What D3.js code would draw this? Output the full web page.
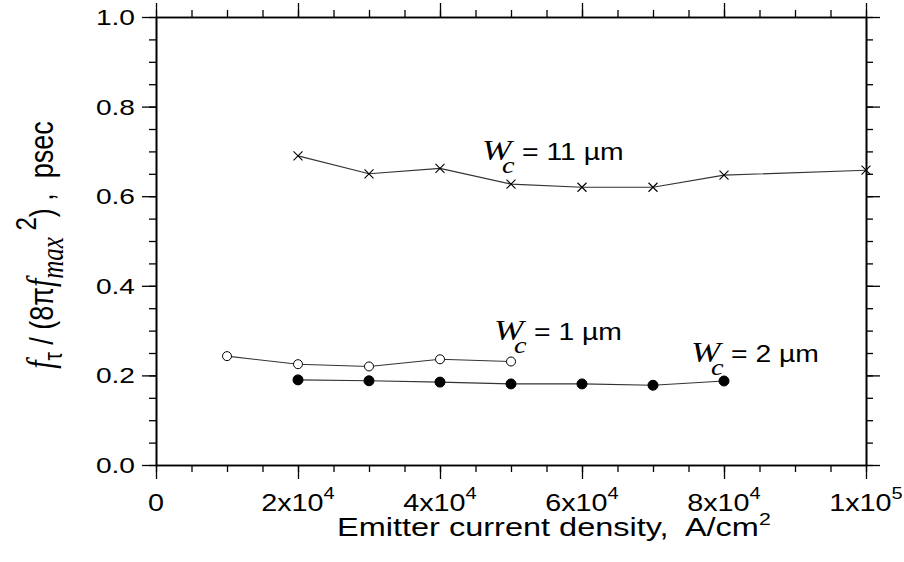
<!DOCTYPE html>
<html>
<head>
<meta charset="utf-8">
<script src="https://cdn.jsdelivr.net/npm/d3@7"></script>
<style>
  html, body { margin: 0; padding: 0; background: #fff; }
  svg { display: block; }
  text { white-space: pre; }
  .sans { font-family: Arial, "Liberation Sans", sans-serif; }
  .serif { font-family: "Times New Roman", "Liberation Serif", serif; font-style: italic; }
</style>
</head>
<body>
<svg id="chart" width="904" height="562"></svg>
<script>
// Emitter current density (A/cm^2) and f_tau/(8*pi*f_max^2) in psec for each collector width
const current11 = [20000, 30000, 40000, 50000, 60000, 70000, 80000, 100000];
const delay11   = [0.690, 0.650, 0.662, 0.627, 0.620, 0.620, 0.647, 0.658];

const current1  = [10000, 20000, 30000, 40000, 50000];
const delay1    = [0.243, 0.225, 0.220, 0.236, 0.231];

const current2  = [20000, 30000, 40000, 50000, 60000, 70000, 80000];
const delay2    = [0.190, 0.188, 0.185, 0.181, 0.181, 0.178, 0.1875];

// Axis tick labels
const xTickValues   = [0, 20000, 40000, 60000, 80000, 100000];
const xTickMantissa = ["0", "2x10", "4x10", "6x10", "8x10", "1x10"];
const xTickExponent = ["", "4", "4", "4", "4", "5"];
const yTickValues   = [0, 0.2, 0.4, 0.6, 0.8, 1.0];
const yTickLabels   = ["0.0", "0.2", "0.4", "0.6", "0.8", "1.0"];

const svg = d3.select("#chart");
const plotLeft = 156, plotRight = 866, plotTop = 17, plotBottom = 465;

const x = d3.scaleLinear().domain([0, 100000]).range([plotLeft, plotRight]);
const y = d3.scaleLinear().domain([0, 1]).range([plotBottom, plotTop]);

const xMinor = d3.range(0, 100001, 5000);
const yMinor = d3.range(0, 1.0001, 0.05);

function styleAxis(g) {
  g.select(".domain").attr("stroke", "#000").attr("stroke-width", 1.6);
  g.selectAll(".tick line").attr("stroke", "#000").attr("stroke-width", 1.3);
  g.selectAll(".tick text").remove();
}

// Minor ticks then major ticks on all four sides, pointing outward
const axes = [
  [d3.axisBottom(x), `translate(0,${plotBottom})`, xMinor, xTickValues],
  [d3.axisTop(x),    `translate(0,${plotTop})`,    xMinor, xTickValues],
  [d3.axisLeft(y),   `translate(${plotLeft},0)`,   yMinor, yTickValues],
  [d3.axisRight(y),  `translate(${plotRight},0)`,  yMinor, yTickValues]
];
axes.forEach(([axis, tr, minor, major]) => {
  svg.append("g").attr("transform", tr)
    .call(axis.tickValues(minor).tickSize(7).tickSizeOuter(0)).call(styleAxis);
  svg.append("g").attr("transform", tr)
    .call(axis.tickValues(major).tickSize(14).tickSizeOuter(0)).call(styleAxis);
});

// Horizontally widened text helper
function label(g, px, py, anchor, size, cls, sx) {
  return g.append("text")
    .attr("class", cls || "sans")
    .attr("transform", `translate(${px},${py}) scale(${sx || 1.25},1)`)
    .attr("text-anchor", anchor)
    .attr("font-size", size)
    .attr("fill", "#000");
}

// Y tick labels
yTickValues.forEach((v, i) => {
  label(svg, plotLeft - 21, y(v) + 8, "end", 22.5).text(yTickLabels[i]);
});

// X tick labels with exponents
xTickValues.forEach((v, i) => {
  const t = label(svg, x(v), 511, "middle", 23);
  t.append("tspan").text(xTickMantissa[i]);
  if (xTickExponent[i]) {
    t.append("tspan").attr("dy", -12).attr("font-size", 16).text(xTickExponent[i]);
  }
});

// X axis title
{
  const t = label(svg, 337, 536, "start", 26);
  t.append("tspan").text("Emitter current density,  A/cm");
  t.append("tspan").attr("dy", -11).attr("font-size", 17).text("2");
}

// Y axis title (rotated)
{
  const t = svg.append("text")
    .attr("transform", `translate(53,245) rotate(-90) scale(1,1.25)`)
    .attr("text-anchor", "middle")
    .attr("font-size", 27)
    .attr("class", "sans")
    .attr("fill", "#000");
  t.append("tspan").attr("class", "serif").attr("font-size", 30).text("f");
  t.append("tspan").attr("dy", 7).attr("font-size", 21).text("τ");
  t.append("tspan").attr("dy", -7).text(" / (8π");
  t.append("tspan").attr("class", "serif").attr("font-size", 30).text("f");
  t.append("tspan").attr("class", "serif").attr("dy", 8).attr("font-size", 25).text("max");
  t.append("tspan").attr("dy", -22).attr("font-size", 24).text(" 2");
  t.append("tspan").attr("dy", 14).text(") ,  psec");
}

// Series lines and markers
const line = d3.line().x(d => x(d[0])).y(d => y(d[1]));
const series = [
  { cur: current11, val: delay11, marker: "cross" },
  { cur: current1,  val: delay1,  marker: "open" },
  { cur: current2,  val: delay2,  marker: "filled" }
];
series.forEach(s => {
  const pts = d3.zip(s.cur, s.val);
  svg.append("path").datum(pts)
    .attr("d", line)
    .attr("fill", "none")
    .attr("stroke", "#333")
    .attr("stroke-width", 1.1);
  const g = svg.append("g");
  if (s.marker === "cross") {
    const h = 4.5;
    g.selectAll("path").data(pts).join("path")
      .attr("d", d => `M${x(d[0]) - h},${y(d[1]) - h}L${x(d[0]) + h},${y(d[1]) + h}M${x(d[0]) - h},${y(d[1]) + h}L${x(d[0]) + h},${y(d[1]) - h}`)
      .attr("stroke", "#000").attr("stroke-width", 1.1);
  } else {
    g.selectAll("circle").data(pts).join("circle")
      .attr("cx", d => x(d[0])).attr("cy", d => y(d[1]))
      .attr("r", s.marker === "open" ? 4.5 : 5)
      .attr("fill", s.marker === "open" ? "#fff" : "#000")
      .attr("stroke", "#000").attr("stroke-width", 1);
  }
});

// Series labels: W_c = ... µm
function seriesLabel(px, py, text) {
  label(svg, px, py, "start", 30, "serif", 1.18).text("W");
  label(svg, px + 20, py + 13, "start", 24, "serif", 1.18).text("c");
  label(svg, px + 40, py, "start", 24, "sans", 1.18).text(text);
}
seriesLabel(482, 160, "= 11 µm");
seriesLabel(494, 340, "= 1 µm");
seriesLabel(691, 362, "= 2 µm");
</script>
</body>
</html>
